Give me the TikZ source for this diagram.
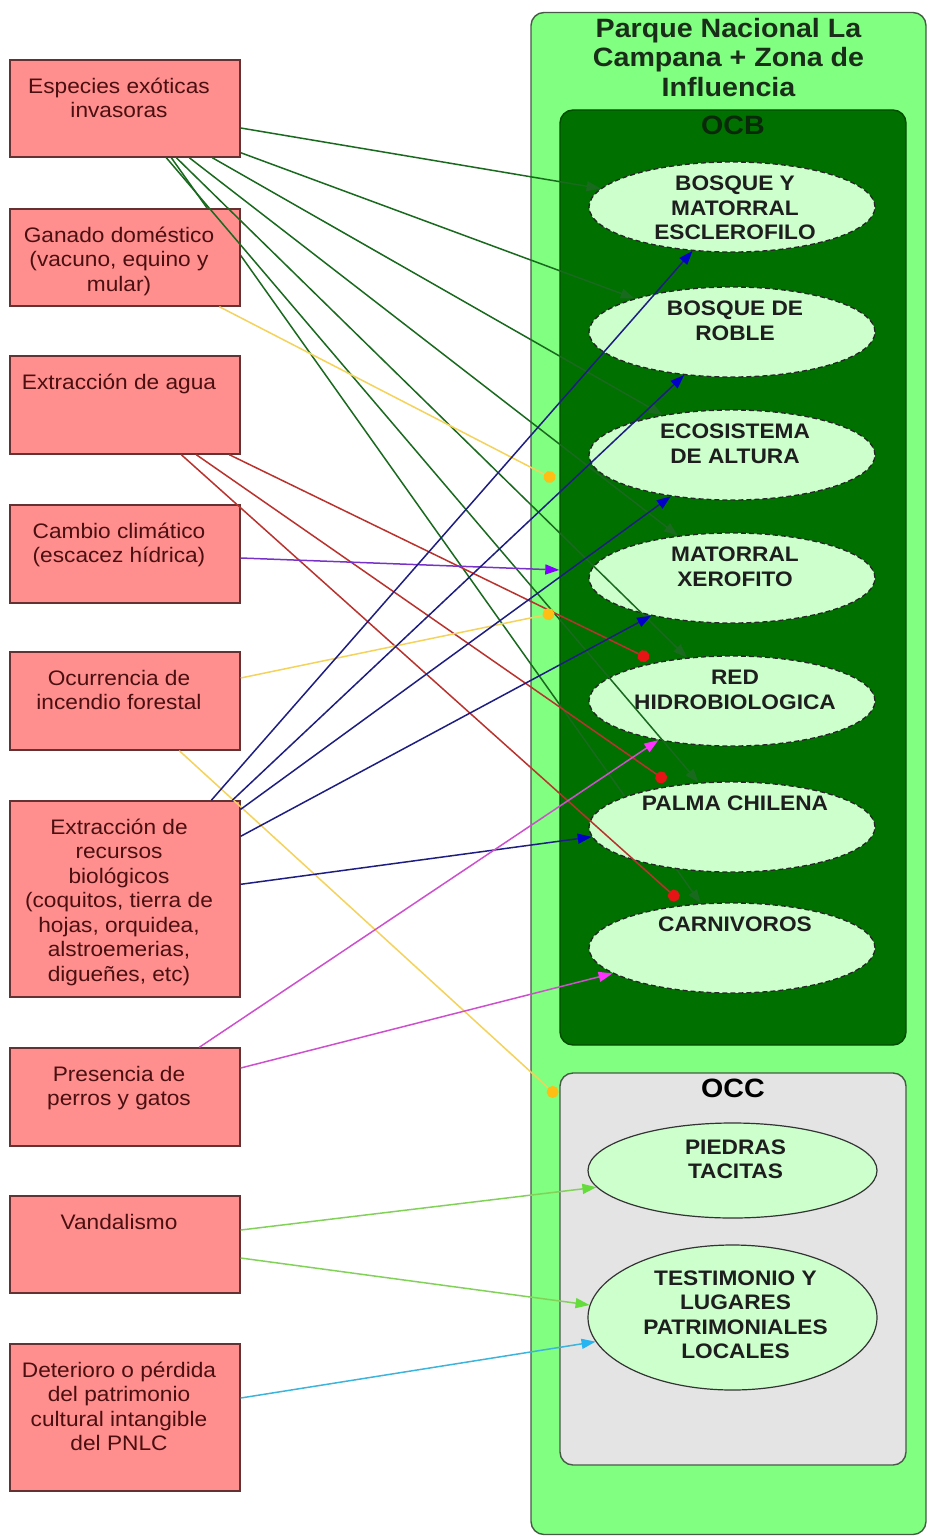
\documentclass[tikz,border=0pt]{standalone}
\usepackage{fontspec}
\setmainfont{Liberation Sans}
\newfontfamily\dfont[FakeStretch=1.08]{Liberation Sans}
\usetikzlibrary{arrows.meta,shapes.geometric}
\definecolor{boxfill}{RGB}{255,143,143}
\definecolor{boxline}{RGB}{100,50,50}
\definecolor{boxtext}{RGB}{75,15,15}
\definecolor{mainfill}{RGB}{128,255,128}
\definecolor{grpline}{RGB}{70,90,70}
\definecolor{ocbfill}{RGB}{0,112,0}
\definecolor{ocbline}{RGB}{0,75,0}
\definecolor{occfill}{RGB}{228,228,228}
\definecolor{ellfill}{RGB}{204,255,204}
\definecolor{titlec}{RGB}{25,45,25}
\definecolor{ocbtext}{RGB}{10,40,10}
\definecolor{etextc}{RGB}{30,30,30}
\definecolor{gline}{RGB}{25,105,30}
\definecolor{yline}{RGB}{245,210,90}
\definecolor{ydot}{RGB}{255,190,20}
\definecolor{rline}{RGB}{185,50,45}
\definecolor{rdot}{RGB}{230,20,20}
\definecolor{pline}{RGB}{120,50,200}
\definecolor{pdot}{RGB}{130,0,255}
\definecolor{bline}{RGB}{30,30,130}
\definecolor{bdot}{RGB}{0,0,200}
\definecolor{mline}{RGB}{205,80,205}
\definecolor{mdot}{RGB}{255,50,255}
\definecolor{vline}{RGB}{130,210,90}
\definecolor{vdot}{RGB}{100,220,60}
\definecolor{cline}{RGB}{60,180,220}
\definecolor{cdot}{RGB}{40,180,240}
\pgfdeclarelayer{bg}
\pgfdeclarelayer{mid}
\pgfsetlayers{bg,mid,main}
\tikzset{
 threat/.style={draw=boxline, fill=boxfill, line width=1.4pt, rectangle, minimum width=230pt, inner sep=0pt},
 ttext/.style={anchor=north, align=center, inner sep=0pt, text=boxtext, font=\fontsize{21}{24.5}\selectfont\dfont},
 ocbell/.style={ellipse, draw=black!85, dash pattern=on 5pt off 3pt, line width=1.3pt, fill=ellfill, minimum width=286pt, minimum height=90pt, inner sep=0pt},
 occell/.style={ellipse, draw=black!80, line width=1.2pt, fill=ellfill, minimum width=289pt, inner sep=0pt},
 etext/.style={anchor=north, align=center, inner sep=0pt, text=etextc, font=\fontsize{21}{24.5}\selectfont\dfont\bfseries},
 grp/.style={rectangle, rounded corners=13pt, line width=1.4pt, inner sep=0pt},
 gtitle/.style={anchor=north, align=center, inner sep=0pt, font=\fontsize{26.5}{29.5}\selectfont\dfont\bfseries},
 conn/.style={line width=1.5pt},
 tri/.style={conn, -{Triangle[length=14pt,width=10pt,color=#1]}},
 dot/.style={conn, -{Circle[length=12pt,color=#1]}},
}
\begin{document}
\begin{tikzpicture}[x=1pt,y=-1pt]
\useasboundingbox (0,0) rectangle (927,1536);
\begin{pgfonlayer}{bg}
\node[grp, draw=grpline, fill=mainfill, minimum width=395pt, minimum height=1522pt] (PN) at (728.5,773.5) {};
\node[grp, draw=ocbline, fill=ocbfill, minimum width=346pt, minimum height=935pt] (OCB) at (733,577.5) {};
\node[grp, draw=grpline, fill=occfill, minimum width=346pt, minimum height=392pt] (OCC) at (733,1269) {};
\end{pgfonlayer}
\node[gtitle, text=titlec] (PNt) at ([yshift=-6pt]PN.north) {Parque Nacional La\\Campana + Zona de\\Influencia};
\node[gtitle, text=ocbtext] (OCBt) at ([yshift=-6.5pt]OCB.north) {OCB};
\node[gtitle, text=black] (OCCt) at ([yshift=-6.5pt]OCC.north) {OCC};
% OCB ellipses
\node[ocbell] (e1) at (732,207) {};
\node[ocbell] (e2) at (732,332) {};
\node[ocbell] (e3) at (732,455) {};
\node[ocbell] (e4) at (732,578) {};
\node[ocbell] (e5) at (732,701) {};
\node[ocbell] (e6) at (732,827) {};
\node[ocbell] (e7) at (732,948) {};
\node[etext] (e1t) at ([xshift=3pt,yshift=31pt]e1.center) {BOSQUE Y\\MATORRAL\\ESCLEROFILO};
\node[etext] (e2t) at ([xshift=3pt,yshift=31pt]e2.center) {BOSQUE DE\\ROBLE};
\node[etext] (e3t) at ([xshift=3pt,yshift=31pt]e3.center) {ECOSISTEMA\\DE ALTURA};
\node[etext] (e4t) at ([xshift=3pt,yshift=31pt]e4.center) {MATORRAL\\XEROFITO};
\node[etext] (e5t) at ([xshift=3pt,yshift=31pt]e5.center) {RED\\HIDROBIOLOGICA};
\node[etext] (e6t) at ([xshift=3pt,yshift=31pt]e6.center) {PALMA CHILENA};
\node[etext] (e7t) at ([xshift=3pt,yshift=31pt]e7.center) {CARNIVOROS};
% OCC ellipses
\node[occell, minimum height=95pt] (pt) at (732.5,1170.5) {};
\node[occell, minimum height=145pt] (tl) at (732.5,1317.5) {};
\node[etext] (ptt) at ([xshift=3pt,yshift=31pt]pt.center) {PIEDRAS\\TACITAS};
\node[etext] (tlt) at ([xshift=3pt,yshift=47pt]tl.center) {TESTIMONIO Y\\LUGARES\\PATRIMONIALES\\LOCALES};
% threat boxes
\node[threat, minimum height=97pt] (E) at (125,108.5) {};
\node[threat, minimum height=97pt] (G) at (125,257.5) {};
\node[threat, minimum height=98pt] (A) at (125,405) {};
\node[threat, minimum height=98pt] (C) at (125,554) {};
\node[threat, minimum height=98pt] (O) at (125,701) {};
\node[threat, minimum height=196pt] (R) at (125,899) {};
\node[threat, minimum height=98pt] (P) at (125,1097) {};
\node[threat, minimum height=97pt] (V) at (125,1244.5) {};
\node[threat, minimum height=147pt] (D) at (125,1417.5) {};
\node[ttext] (Et) at ([xshift=-6pt,yshift=-18.5pt]E.north) {Especies exóticas\\invasoras};
\node[ttext] (Gt) at ([xshift=-6pt,yshift=-18.5pt]G.north) {Ganado doméstico\\(vacuno, equino y\\mular)};
\node[ttext] (At) at ([xshift=-6pt,yshift=-18.5pt]A.north) {Extracción de agua};
\node[ttext] (Ct) at ([xshift=-6pt,yshift=-18.5pt]C.north) {Cambio climático\\(escacez hídrica)};
\node[ttext] (Ot) at ([xshift=-6pt,yshift=-18.5pt]O.north) {Ocurrencia de\\incendio forestal};
\node[ttext] (Rt) at ([xshift=-6pt,yshift=-18.5pt]R.north) {Extracción de\\recursos\\biológicos\\(coquitos, tierra de\\hojas, orquidea,\\alstroemerias,\\digueñes, etc)};
\node[ttext] (Pt) at ([xshift=-6pt,yshift=-18.5pt]P.north) {Presencia de\\perros y gatos};
\node[ttext] (Vt) at ([xshift=-6pt,yshift=-18.5pt]V.north) {Vandalismo};
\node[ttext] (Dt) at ([xshift=-6pt,yshift=-18.5pt]D.north) {Deterioro o pérdida\\del patrimonio\\cultural intangible\\del PNLC};
% hidden green line (behind ellipses)
\begin{pgfonlayer}{mid}
\draw[tri=gline, draw=gline] ([xshift=162pt]E.south west) -- (e7.125);
\end{pgfonlayer}
% Especies exoticas
\draw[tri=gline, draw=gline] ([yshift=-19.5pt]E.east) -- (e1.172);
\draw[tri=gline, draw=gline] ([yshift=5pt]E.south east) -- (e2.161);
\draw[tri=gline, draw=gline] ([xshift=203pt]E.south west) -- (e3.150);
\draw[tri=gline, draw=gline] ([xshift=180pt]E.south west) -- (e4.142);
\draw[tri=gline, draw=gline] ([xshift=167pt]E.south west) -- (e5.136);
\draw[tri=gline, draw=gline] ([xshift=157pt]E.south west) -- (e6.127);
% Ganado
\draw[dot=ydot, draw=yline, shorten >=5pt] ([xshift=210pt]G.south west) -- ([yshift=95.5pt]OCB.west);
% Extraccion de agua
\draw[dot=rdot, draw=rline, shorten >=8pt] ([xshift=220pt]A.south west) -- (e5.153);
\draw[dot=rdot, draw=rline, shorten >=8pt] ([xshift=187pt]A.south west) -- (e6.145);
\draw[dot=rdot, draw=rline, shorten >=8pt] ([xshift=172pt]A.south west) -- (e7.138);
% Cambio climatico
\draw[tri=pdot, draw=pline] ([yshift=-4pt]C.east) -- ([yshift=7.5pt]OCB.west);
% Ocurrencia de incendio
\draw[dot=ydot, draw=yline, shorten >=5pt] ([yshift=23pt]O.east) -- ([yshift=-34.5pt]OCB.west);
\draw[dot=ydot, draw=yline, shorten >=3pt] ([xshift=170pt]O.south west) -- ([yshift=171pt]OCC.west);
% Extraccion de recursos biologicos
\draw[tri=bdot, draw=bline] ([xshift=202pt]R.north west) -- (e1.228);
\draw[tri=bdot, draw=bline] ([xshift=223pt]R.north west) -- (e2.222);
\draw[tri=bdot, draw=bline] ([yshift=-9pt]R.north east) -- (e3.214);
\draw[tri=bdot, draw=bline] ([yshift=-36pt]R.north east) -- (e4.205);
\draw[tri=bdot, draw=bline] ([yshift=-84pt]R.north east) -- (e6.184);
% Presencia de perros y gatos
\draw[tri=mdot, draw=mline] ([xshift=190pt]P.north west) -- (e5.208);
\draw[tri=mdot, draw=mline] ([yshift=29pt]P.east) -- (e7.192);
% Vandalismo
\draw[tri=vdot, draw=vline] ([yshift=14.5pt]V.east) -- (pt.187);
\draw[tri=vdot, draw=vline] ([yshift=-13.5pt]V.east) -- (tl.175);
% Deterioro
\draw[tri=cdot, draw=cline] ([yshift=19.5pt]D.east) -- (tl.190);
\end{tikzpicture}
\end{document}
